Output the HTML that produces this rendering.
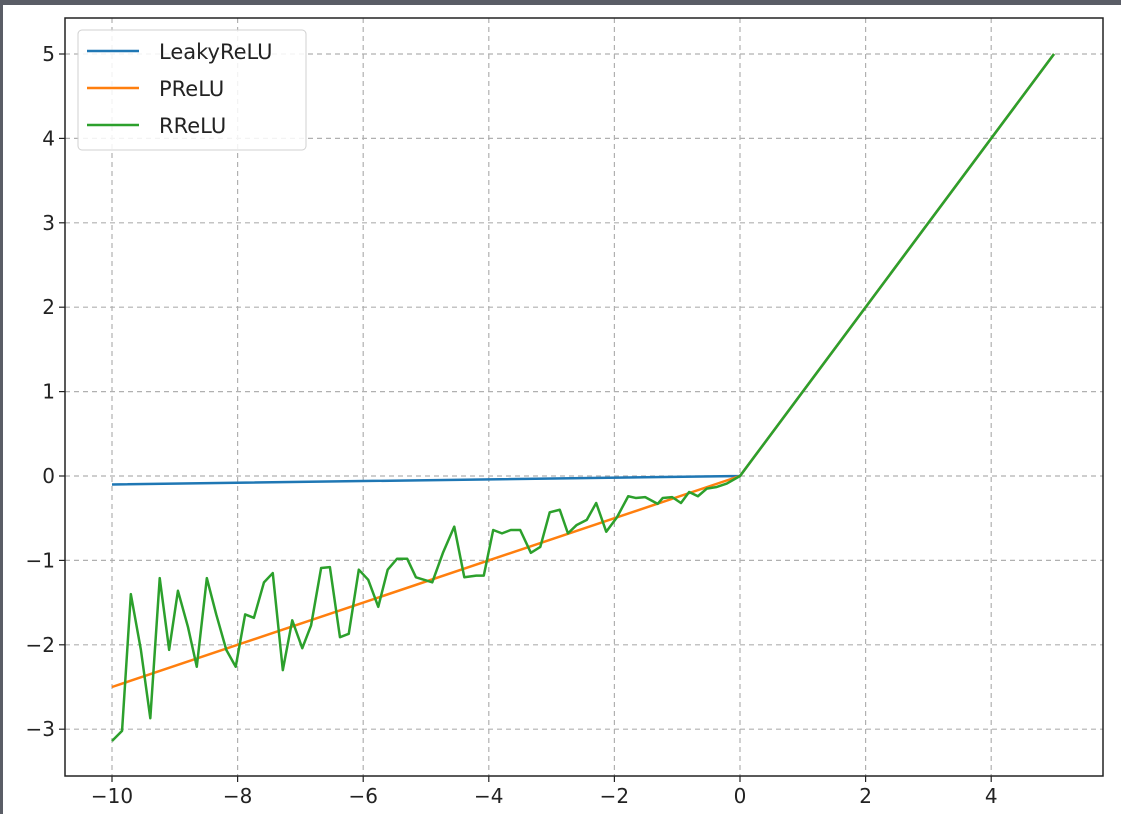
<!DOCTYPE html>
<html><head><meta charset="utf-8"><style>
body{margin:0;background:#5a5d66;}
#wrap{position:absolute;left:3px;top:5px;width:1118px;height:809px;background:#fff;}
svg{position:absolute;left:0;top:0;}
text{font-family:"DejaVu Sans","Liberation Sans",sans-serif;fill:#222;}
</style></head><body>
<div id="wrap"></div>
<svg id="chart" width="1121" height="814"></svg>
<script>
const xTicks=[-10,-8,-6,-4,-2,0,2,4];
const yTicks=[-3,-2,-1,0,1,2,3,4,5];
const lineX=[-10,0,5];
const leakyY=[-0.1,0,5];
const preluY=[-2.5,0,5];
const rreluX=[-10,-9.84,-9.70,-9.54,-9.39,-9.24,-9.09,-8.95,-8.79,-8.65,-8.49,-8.34,-8.18,-8.03,-7.88,-7.74,-7.58,-7.44,-7.28,-7.13,-6.97,-6.83,-6.67,-6.53,-6.37,-6.23,-6.07,-5.92,-5.76,-5.61,-5.46,-5.30,-5.16,-4.90,-4.73,-4.55,-4.39,-4.20,-4.08,-3.93,-3.79,-3.65,-3.50,-3.33,-3.18,-3.03,-2.87,-2.74,-2.60,-2.44,-2.29,-2.13,-1.96,-1.78,-1.66,-1.51,-1.31,-1.23,-1.08,-0.94,-0.81,-0.67,-0.53,-0.37,-0.21,0,5];
const rreluY=[-3.14,-3.02,-1.40,-2.06,-2.87,-1.21,-2.06,-1.36,-1.79,-2.26,-1.21,-1.64,-2.06,-2.26,-1.64,-1.68,-1.26,-1.15,-2.30,-1.71,-2.04,-1.77,-1.09,-1.08,-1.91,-1.87,-1.11,-1.23,-1.55,-1.11,-0.98,-0.98,-1.20,-1.26,-0.91,-0.60,-1.20,-1.18,-1.18,-0.64,-0.68,-0.64,-0.64,-0.91,-0.84,-0.43,-0.40,-0.68,-0.58,-0.52,-0.32,-0.66,-0.49,-0.24,-0.26,-0.25,-0.33,-0.26,-0.25,-0.32,-0.19,-0.24,-0.15,-0.13,-0.09,0,5];

const NS='http://www.w3.org/2000/svg';
const svg=document.getElementById('chart');
const L=65,R=1103,T=18,B=776;
const sx=v=>740+v*62.8;
const sy=v=>476-v*84.4;
function mk(tag,attrs,parent){const e=document.createElementNS(NS,tag);for(const k in attrs)e.setAttribute(k,attrs[k]);(parent||svg).appendChild(e);return e;}

const grid=mk('g',{});


xTicks.forEach(t=>{
  const x=sx(t);
  const gl=mk('line',{x1:x,x2:x,y1:T,y2:B,stroke:'#b0b0b0','stroke-width':1.2,'stroke-dasharray':'5,4'},grid);
  
  
  mk('line',{x1:x,x2:x,y1:B,y2:B+6,stroke:'#222','stroke-width':1.2});
  const tx=mk('text',{x:x,y:B+27,'font-size':20,'text-anchor':'middle'});
  tx.textContent=(t<0?'\u2212'+(-t):t);
  
  
});
yTicks.forEach(t=>{
  const y=sy(t);
  const gl=mk('line',{x1:L,x2:R,y1:y,y2:y,stroke:'#b0b0b0','stroke-width':1.2,'stroke-dasharray':'5,4'},grid);
  
  
  mk('line',{x1:L-6,x2:L,y1:y,y2:y,stroke:'#222','stroke-width':1.2});
  const tx=mk('text',{x:L-10,y:y+7,'font-size':20,'text-anchor':'end'});
  tx.textContent=(t<0?'\u2212'+(-t):t);
  
  
});
function series(xs,ys,color,name){
  const p=mk('polyline',{points:xs.map((x,i)=>sx(x)+','+sy(ys[i])).join(' '),fill:'none',stroke:color,'stroke-width':2.5,'stroke-linejoin':'round'});
  
  
}
series(lineX,leakyY,'#1f77b4','leakyrelu-line');
series(lineX,preluY,'#ff7f0e','prelu-line');
series(rreluX,rreluY,'#2ca02c','rrelu-line');
const fr=mk('rect',{x:L,y:T,width:R-L,height:B-T,fill:'none',stroke:'#222','stroke-width':1.5});


const lg=mk('g',{});


mk('rect',{x:78,y:30,width:228,height:120,rx:4,fill:'#fff','fill-opacity':0.85,stroke:'#d0d0d0'},lg);
[['LeakyReLU','#1f77b4'],['PReLU','#ff7f0e'],['RReLU','#2ca02c']].forEach((e,i)=>{
  const y=51+i*37;
  const g=mk('g',{},lg);
  
  
  mk('line',{x1:87,x2:139,y1:y,y2:y,stroke:e[1],'stroke-width':2.5},g);
  const t=mk('text',{x:159,y:y+8,'font-size':21},g);t.textContent=e[0];
});
</script>
</body></html>
